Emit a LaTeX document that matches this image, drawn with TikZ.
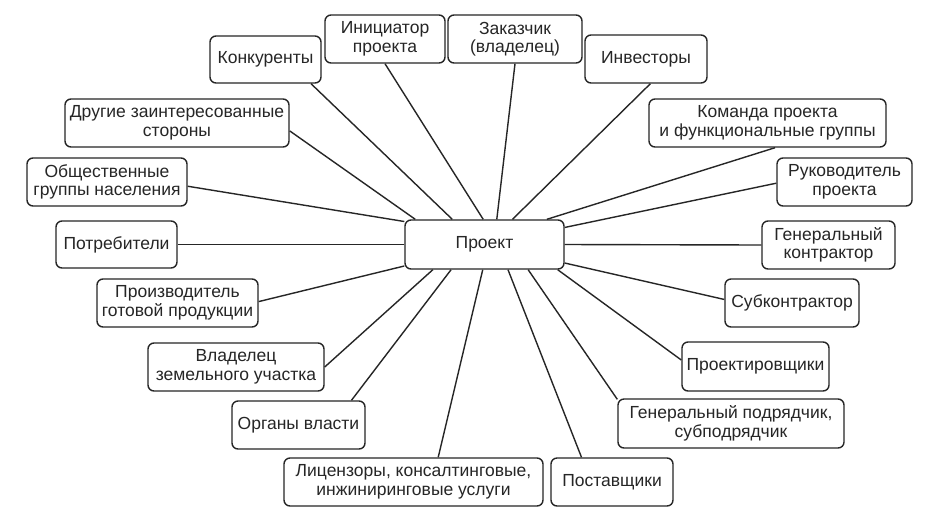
\documentclass[tikz,border=0pt]{standalone}
\usepackage{fontspec}
\setmainfont{Liberation Sans}
\definecolor{ink}{HTML}{262626}
\begin{document}
\begin{tikzpicture}[x=1pt,y=-1pt,
  box/.style={draw=ink, text=ink, rounded corners=6pt, line width=1.4pt, align=center, inner sep=0pt,
    font=\fontsize{17.5}{18.5}\selectfont, minimum height=48pt},
  link/.style={draw=ink, line width=1.4pt}]
\useasboundingbox[fill=white] (0,0) rectangle (941,528);
\node[box, minimum width=159pt, minimum height=49pt] (p) at (484.5,244.5) {Проект};
\node[box, minimum width=111pt, minimum height=47pt] (konk) at (265.5,59.5) {Конкуренты};
\node[box, minimum width=120pt] (init) at (385,39) {Инициатор\\проекта};
\node[box, minimum width=134pt] (zak) at (515,39) {Заказчик\\(владелец)};
\node[box, minimum width=122pt] (inv) at (646,59) {Инвесторы};
\node[box, minimum width=224pt] (drug) at (177,123) {Другие заинтересованные\\стороны};
\node[box, minimum width=160pt] (obsh) at (107,182) {Общественные\\группы населения};
\node[box, minimum width=121pt, minimum height=47pt] (potr) at (116.5,244.5) {Потребители};
\node[box, minimum width=237pt] (kom) at (767.5,123) {Команда проекта\\и функциональные группы};
\node[box, minimum width=135pt] (ruk) at (844.5,182) {Руководитель\\проекта};
\node[box, minimum width=133pt] (gk) at (828.5,245) {Генеральный\\контрактор};
\node[box, minimum width=134pt] (sub) at (792,303) {Субконтрактор};
\node[box, minimum width=147pt, minimum height=49pt] (proj) at (755.5,366.5) {Проектировщики};
\node[box, minimum width=226pt, minimum height=49pt] (gp) at (731,423.5) {Генеральный подрядчик,\\субподрядчик};
\node[box, minimum width=122pt] (post) at (612,482) {Поставщики};
\node[box, minimum width=259pt] (lic) at (413.5,482) {Лицензоры, консалтинговые,\\инжиниринговые услуги};
\node[box, minimum width=133pt] (org) at (298.5,425) {Органы власти};
\node[box, minimum width=176pt] (vlad) at (236,367) {Владелец\\земельного участка};
\node[box, minimum width=161pt] (proizv) at (177.5,303) {Производитель\\готовой продукции};
\draw[link] (p.160.6) -- (drug.356.4);
\draw[link] (p.142.1) -- (konk.332.2);
\draw[link] (p.93.5) -- (init.south);
\draw[link] (p.64.9) -- (zak.south);
\draw[link] (p.42.8) -- (inv.280);
\draw[link] (p.22.7) -- (kom.287.4);
\draw[link] (p.164.9) -- (obsh.357.9);
\draw[link] (p.west) -- (potr.east);
\draw[link] (p.195.8) -- (proizv.1.4);
\draw[link] (p.12.4) -- (ruk.181);
\draw[link] (p.east) -- (gk.west);
\draw[link] (p.347.6) -- (sub.177.4);
\draw[link] (p.206.3) -- (vlad.east);
\draw[link] (p.217.9) -- (org.25);
\draw[link] (p.266.5) -- (lic.45.6);
\draw[link] (p.313.8) -- (post.141.3);
\draw[link] (p.330.6) -- (gp.168);
\draw[link] (p.341.3) -- (proj.175.7);
\end{tikzpicture}
\end{document}
